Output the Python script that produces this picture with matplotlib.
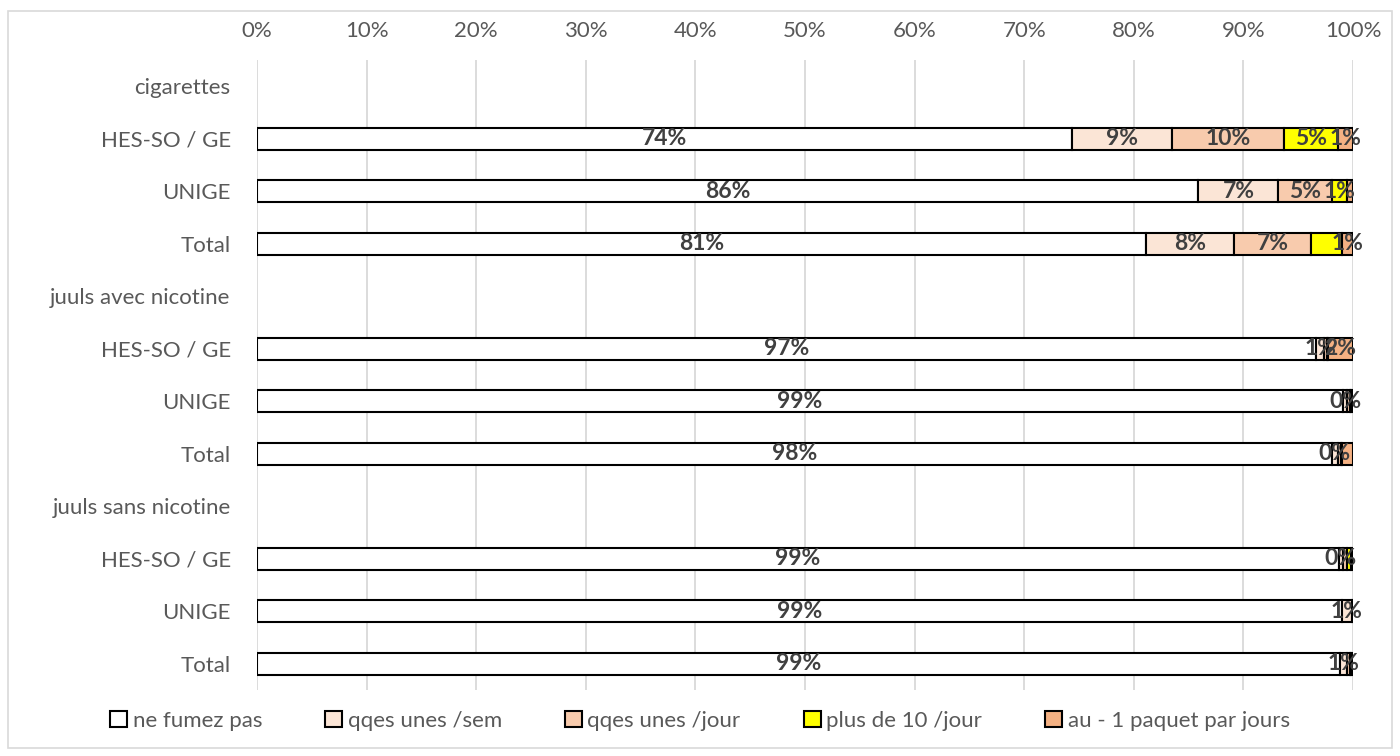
import matplotlib.pyplot as plt
import matplotlib.patches as mpatches
import numpy as np

# catégories (de haut en bas)
categories = ["cigarettes", "HES-SO / GE", "UNIGE", "Total",
              "juuls avec nicotine", "HES-SO / GE", "UNIGE", "Total",
              "juuls sans nicotine", "HES-SO / GE", "UNIGE", "Total"]

series_names = ["ne fumez pas", "qqes unes /sem", "qqes unes /jour",
                "plus de 10 /jour", "au - 1 paquet par jours"]

# valeurs en % par série (les lignes de titre sont vides)
ne_fumez_pas = [0, 74.4, 85.9, 81.1, 0, 96.6, 99.1, 98.1, 0, 98.7, 99.0, 98.8]
qqes_sem     = [0, 9.1, 7.3, 8.0, 0, 0.8, 0.4, 0.5, 0, 0.4, 0.9, 0.7]
qqes_jour    = [0, 10.2, 4.9, 7.1, 0, 0.2, 0.2, 0.3, 0, 0.4, 0.0, 0.2]
plus_10      = [0, 4.9, 1.4, 2.8, 0, 0.1, 0.1, 0.1, 0, 0.3, 0.0, 0.1]
paquet       = [0, 1.4, 0.5, 1.0, 0, 2.3, 0.2, 1.0, 0, 0.2, 0.1, 0.2]

# séries dont l'étiquette est visible, par ligne
shown_labels = [[], [0, 1, 2, 3, 4], [0, 1, 2, 3], [0, 1, 2, 4],
                [], [0, 1, 4], [0, 1], [0, 1],
                [], [0, 1], [0, 1], [0, 1]]

ticks_x = [0, 10, 20, 30, 40, 50, 60, 70, 80, 90, 100]

colors = ["#FFFFFF", "#FBE5D6", "#F8CBAD", "#FFFF00", "#F4B183"]

plt.rcParams['font.family'] = ['Lato', 'DejaVu Sans']

fig = plt.figure(figsize=(14, 7.56), dpi=100)
ax = fig.add_axes([0.1836, 0.0873, 0.7828, 0.8333])

data = [ne_fumez_pas, qqes_sem, qqes_jour, plus_10, paquet]
y = np.arange(len(categories))
left = np.zeros(len(categories))
bars = []
for vals, col, name in zip(data, colors, series_names):
    vals = np.array(vals, dtype=float)
    keep = vals > 0  # pas de barre vide sur les lignes de titre
    ax.barh(y[keep], vals[keep], left=left[keep], height=0.42, color=col,
            edgecolor="black", linewidth=1.5, label=name, zorder=3)
    bars.append((vals, left.copy()))
    left = left + vals

# étiquettes de données
for i in range(len(categories)):
    for s in shown_labels[i]:
        vals, lf = bars[s]
        ax.text(lf[i] + vals[i] / 2, y[i], "%d%%" % round(vals[i]),
                ha="center", va="center", fontsize=16.5, fontweight="bold",
                color="#404040", zorder=5)

ax.set_xlim(0, 100)
ax.set_ylim(11.5, -0.5)
ax.set_yticks(y)
ax.set_yticklabels(categories)
ax.set_xticks(ticks_x)
ax.set_xticklabels(["%d%%" % t for t in ticks_x])
ax.xaxis.tick_top()
ax.tick_params(axis="x", length=0, pad=14, labelsize=16, labelcolor="#595959")
ax.tick_params(axis="y", length=0, pad=19, labelsize=16, labelcolor="#595959")
ax.grid(axis="x", color="#D9D9D9", linewidth=1.3, zorder=0)
for sp in ax.spines.values():
    sp.set_visible(False)

handles, labels = ax.get_legend_handles_labels()
leg = fig.legend(handles, labels, loc="center", bbox_to_anchor=(0.5, 1 - 721 / 756),
                 ncol=5, frameon=False, fontsize=16, handlelength=0.75, handleheight=0.75,
                 handletextpad=0.25, columnspacing=2.85)
for t in leg.get_texts():
    t.set_color("#595959")

# cadre du graphique
fig.patches.append(mpatches.Rectangle((8 / 1400, 8 / 756), 1384 / 1400, 737 / 756,
                                      transform=fig.transFigure, fill=False,
                                      edgecolor="#D9D9D9", linewidth=1.2))

plt.savefig("out.png", dpi=100)
